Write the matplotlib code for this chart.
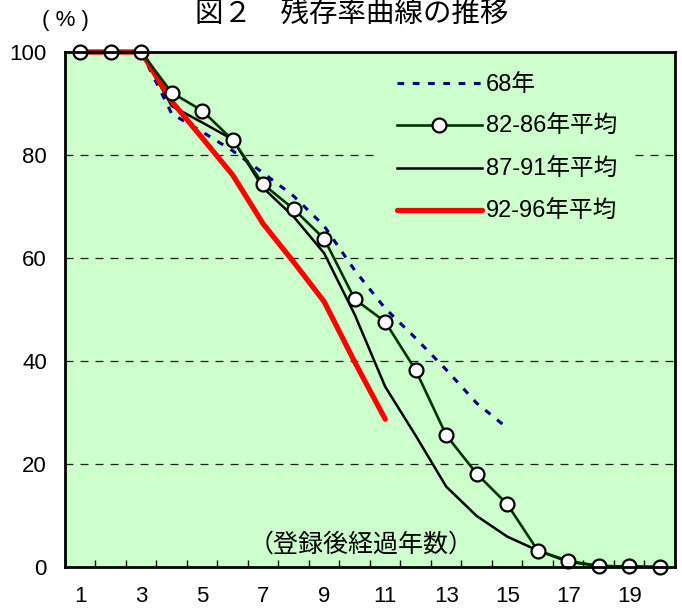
import matplotlib
matplotlib.use("Agg")
import matplotlib.pyplot as plt
from matplotlib.ticker import FixedLocator, MultipleLocator

plt.rcParams["font.family"] = ["Liberation Sans", "Noto Sans CJK JP", "DejaVu Sans"]

# 登録後経過年数
years = list(range(1, 21))

# 残存率 (%)
r68 = [100, 100, 100, 88.0, 84.5, 80.8, 76.5, 72.0, 66.2, 57.6, 50.2, 44.4, 38.3, 31.8, 27.0]
r82_86 = [100, 100, 100, 92.1, 88.6, 82.9, 74.3, 69.5, 63.7, 52.0, 47.6, 38.2, 25.6, 18.1, 12.2,
          3.2, 1.2, 0.2, 0.1, 0.0]
r87_91 = [100, 100, 100, 89.5, 86.3, 83.0, 73.6, 68.0, 60.9, 49.0, 35.0, 25.5, 15.6, 9.9, 5.9,
          3.2, 1.0, 0.2, 0.1, 0.0]
r92_96 = [100, 100, 100, 90.4, 83.3, 76.1, 66.6, 59.2, 51.5, 39.8, 28.7]

labels = ["68年", "82-86年平均", "87-91年平均", "92-96年平均"]
xticks = [1, 3, 5, 7, 9, 11, 13, 15, 17, 19]
yticks = [0, 20, 40, 60, 80, 100]

bg = "#CCFFCC"

fig = plt.figure(figsize=(6.82, 6.10), dpi=100)
ax = fig.add_axes([0.0953, 0.0705, 0.8944, 0.8443])
ax.set_facecolor(bg)

# 補助線（破線）
for y in yticks[1:-1]:
    ax.axhline(y, color="#222222", lw=0.9, ls=(0, (6.4, 5.6)), zorder=1)

ax.plot(years[:len(r68)], r68, color="#000080", lw=2.2, ls=(0, (2.2, 2.8)), label=labels[0], zorder=3)
ax.plot(years, r82_86, color="#003300", lw=1.9, marker="o", ms=10, mfc="white", mec="black",
        mew=1.6, label=labels[1], zorder=5, clip_on=False)
ax.plot(years, r87_91, color="black", lw=1.8, label=labels[2], zorder=4)
ax.plot(years[:len(r92_96)], r92_96, color="#FF0000", lw=3.8, label=labels[3], zorder=4,
        solid_capstyle="round", clip_on=False)

ax.set_xlim(0.5, 20.5)
ax.set_ylim(0, 100)

ax.xaxis.set_major_locator(FixedLocator(xticks))
ax.xaxis.set_minor_locator(MultipleLocator(1, offset=0.5))
ax.tick_params(axis="x", which="major", length=0, pad=14, labelsize=16)
ax.tick_params(axis="x", which="minor", direction="in", length=5, width=1, top=False)
ax.set_yticks(yticks)
ax.tick_params(axis="y", length=0, pad=13, labelsize=16)

for s in ax.spines.values():
    s.set_linewidth(2.0)
    s.set_zorder(7)

leg = ax.legend(loc="upper left", bbox_to_anchor=(0.516, 0.992), borderaxespad=0, frameon=True,
                facecolor=bg, edgecolor="none", framealpha=1, fontsize=17, handlelength=3.56,
                handletextpad=0.2, labelspacing=0.87, borderpad=0.75)
leg.set_zorder(6)

fig.text(0.516, 0.977, "図２　残存率曲線の推移", ha="center", va="center", fontsize=20.5)
fig.text(0.096, 0.966, "( % )", ha="center", va="center", fontsize=16)
ax.text(10.2, 4.3, "（登録後経過年数）", ha="center", va="center", fontsize=18, zorder=6)

fig.savefig("out.png", dpi=100)
